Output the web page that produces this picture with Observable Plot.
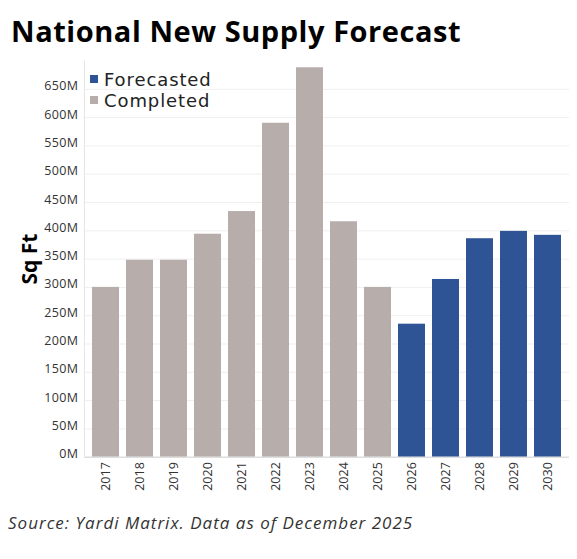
<!DOCTYPE html>
<html>
<head>
<meta charset="utf-8">
<script src="https://cdn.jsdelivr.net/npm/d3@7"></script>
<script src="https://cdn.jsdelivr.net/npm/@observablehq/plot@0.6"></script>
<style>
  body { margin: 0; background: #fff; font-family: "Open Sans", sans-serif; }
  #wrap { position: relative; width: 577px; height: 559px; }
  #title { position: absolute; left: 11px; top: 14px; font-size: 29px; line-height: 34px; font-weight: 700; color: #000; white-space: nowrap; letter-spacing: 0.55px; }
  #chart { position: absolute; left: 0; top: 55px; }
  #legend { position: absolute; left: 90px; top: 69px; font-family: "DejaVu Sans", sans-serif; font-size: 18px; line-height: 21px; color: #222; letter-spacing: 0.9px; }
  #legend div { height: 21px; white-space: nowrap; }
  #legend .sw { display: inline-block; width: 8px; height: 8px; margin-right: 6px; vertical-align: 3px; }
  #caption { position: absolute; left: 8px; top: 511px; font-size: 17px; font-style: italic; color: #333; white-space: nowrap; letter-spacing: 1.0px; }
  #chart g[aria-label="y-axis label"] { font-size: 21px; font-weight: 700; fill: #000; }
  #chart g[aria-label="y-axis tick label"] { letter-spacing: 0.4px; }
</style>
</head>
<body>
<div id="wrap">
  <div id="title">National New Supply Forecast</div>
  <div id="chart"></div>
  <div id="legend"></div>
  <div id="caption">Source: Yardi Matrix. Data as of December 2025</div>
</div>
<script>
// valores, en millones de pies cuadrados
const years = ["2017","2018","2019","2020","2021","2022","2023","2024","2025","2026","2027","2028","2029","2030"]
const supply = [300, 348, 348, 394, 434, 590, 688, 416, 300, 235, 314, 386, 399, 392]
const status = ["Completed","Completed","Completed","Completed","Completed","Completed","Completed","Completed","Completed",
  "Forecasted","Forecasted","Forecasted","Forecasted","Forecasted"]
const yTicks = [0, 50, 100, 150, 200, 250, 300, 350, 400, 450, 500, 550, 600, 650]
const legendItems = ["Forecasted", "Completed"]
const colors = {Completed: "#b7aeab", Forecasted: "#2f5496"}

const data = years.map((y, i) => ({year: y, value: supply[i], status: status[i]}))

let chart = Plot.plot({
  width: 577,
  height: 450,
  marginLeft: 84,
  marginRight: 8,
  marginTop: 5.5,
  marginBottom: 48.3,
  style: {fontFamily: "'Open Sans', sans-serif", fontSize: "12.5px", color: "#333", background: "transparent"},
  x: {domain: years, padding: 0.22},
  y: {domain: [0, 700]},
  color: {domain: Object.keys(colors), range: Object.values(colors)},
  marks: [
    Plot.gridY(yTicks, {stroke: "#efefef", strokeOpacity: 1}),
    Plot.barY(data, {x: "year", y: "value", fill: "status"}),
    Plot.ruleY([0], {stroke: "#d4d4d4"}),
    Plot.frame({anchor: "left", stroke: "#e6e6e6"}),
    Plot.axisY(yTicks, {tickSize: 0, tickPadding: 6, tickFormat: d => d + "M", label: "Sq Ft",
      labelAnchor: "center", labelArrow: "none", labelOffset: 62, dy: -3}),
    Plot.axisX({tickSize: 0, tickRotate: -90, tickPadding: 5, label: null})
  ]
})
d3.select('#chart').append(() => chart)

// leyenda arriba a la izquierda, dentro del área
const leg = d3.select('#legend')
legendItems.forEach(k => {
  const row = leg.append('div')
  row.append('span').attr('class', 'sw').style('background', colors[k])
  row.append('span').text(k)
})
</script>
</body>
</html>
